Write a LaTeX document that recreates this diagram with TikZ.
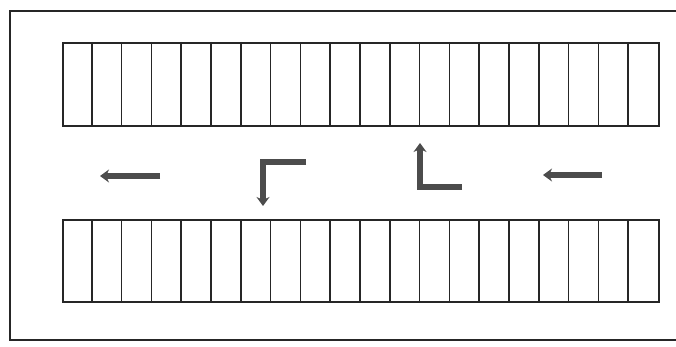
\documentclass[tikz,border=0pt]{standalone}
\usetikzlibrary{arrows.meta}
\begin{document}
\begin{tikzpicture}[x=1pt,y=-1pt,
  frameline/.style={line width=1.6pt,black!85},
  cellrow/.style={draw=black!85,line width=1.8pt},
  cellwall/.style={black!85,line width=1.6pt},
  movearrow/.style={line width=6pt,black!70,-{Stealth[length=9pt,width=13pt]}}]
\useasboundingbox (0,0) rectangle (676,347);
% outer frame (open on the right)
\draw[frameline] (676,11) -- (10,11) -- (10,340) -- (676,340);
% top row of cells
\node[cellrow,minimum width=596pt,minimum height=83pt,inner sep=0pt,anchor=north west] (toprow) at (62,42) {};
\foreach \i in {1,...,19}{
  \draw[cellwall] ([xshift=\i*29.8pt]toprow.north west) -- ([xshift=\i*29.8pt]toprow.south west);
}
% bottom row of cells
\node[cellrow,minimum width=596pt,minimum height=82pt,inner sep=0pt,anchor=north west] (botrow) at (62,219) {};
\foreach \i in {1,...,19}{
  \draw[cellwall] ([xshift=\i*29.8pt]botrow.north west) -- ([xshift=\i*29.8pt]botrow.south west);
}
% movement arrows
\coordinate (a1s) at (160,176); \coordinate (a1e) at (100,176);
\draw[movearrow] (a1s) -- (a1e);
\coordinate (a2s) at (306,162); \coordinate (a2e) at (263,206);
\draw[movearrow] (a2s) -| (a2e);
\coordinate (a3s) at (462,187); \coordinate (a3e) at (420,143);
\draw[movearrow] (a3s) -| (a3e);
\coordinate (a4s) at (602,175); \coordinate (a4e) at (543,175);
\draw[movearrow] (a4s) -- (a4e);
\end{tikzpicture}
\end{document}
